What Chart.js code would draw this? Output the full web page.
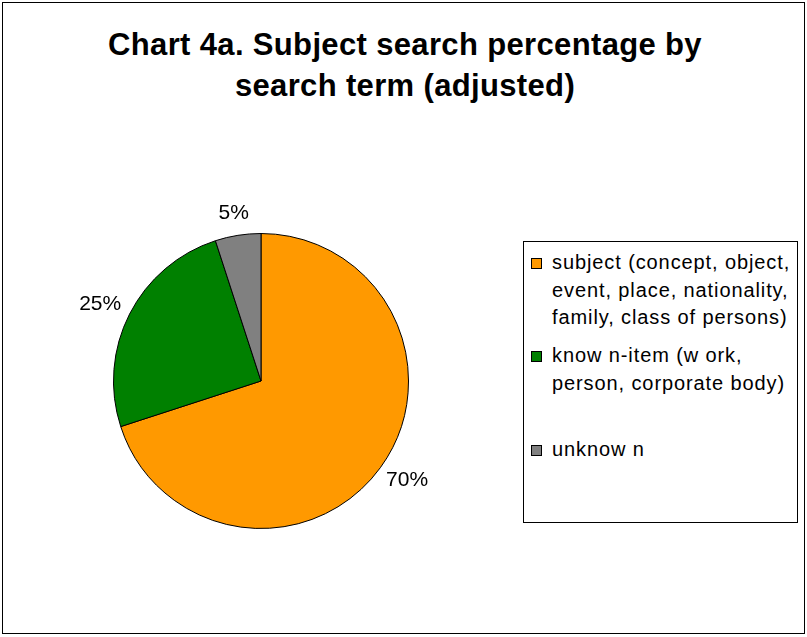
<!DOCTYPE html>
<html>
<head>
<meta charset="utf-8">
<script src="https://cdn.jsdelivr.net/npm/chart.js@4/dist/chart.umd.min.js"></script>
<style>
  html, body { margin: 0; padding: 0; background: #fff; }
  body { width: 807px; height: 637px; position: relative; overflow: hidden; font-family: "Liberation Sans", Arial, sans-serif; }
  #frame { position: absolute; left: 2px; top: 2px; width: 801px; height: 630px; border: 1px solid #000; }
  #title { position: absolute; left: 0; top: 24px; width: 810px; text-align: center; font-weight: bold; font-size: 31px; letter-spacing: 0.35px; line-height: 41px; color: #000; }
  #chart-pie { position: absolute; left: 0; top: 0; }
  #legend { position: absolute; left: 523px; top: 241px; width: 273px; height: 280px; border: 1px solid #000; background: #fff; }
  .item { position: absolute; left: 0; font-size: 20px; letter-spacing: 0.9px; line-height: 27.5px; color: #000; }
  .box { position: absolute; left: 7px; width: 9px; height: 9px; border: 1px solid #000; }
  .txt { position: absolute; left: 28px; white-space: nowrap; }
</style>
</head>
<body>
<div id="frame"></div>
<div id="title"></div>
<canvas id="chart-pie" width="807" height="637"></canvas>
<div id="legend"></div>
<script>
const titleLines = ["Chart 4a. Subject search percentage by", "search term (adjusted)"];
const categories = ["subject (concept, object, event, place, nationality, family, class of persons)",
                    "known-item (work, person, corporate body)",
                    "unknown"];
const legendLines = [
    ["subject (concept, object,", "event, place, nationality,", "family, class of persons)"],
    ["know n-item (w ork,", "person, corporate body)"],
    ["unknow n"]
];
const percentValues = [70, 25, 5];
const sliceColors = ['#FF9900', '#008000', '#808080'];

document.getElementById("title").innerHTML = titleLines.join("<br>");

// legend entries, top of each entry inside the box
const legendTops = [7, 100, 194];
const legendGet = document.getElementById("legend");
legendLines.forEach(function (lines, i) {
    const item = document.createElement("div");
    item.className = "item";
    item.style.top = legendTops[i] + "px";
    item.innerHTML = '<div class="box" style="top:9px;background:' + sliceColors[i] + '"></div>' +
        '<div class="txt">' + lines.join("<br>") + '</div>';
    legendGet.appendChild(item);
});

// percentage labels outside each slice
const outsideLabels = {
    id: 'outsideLabels',
    afterDatasetsDraw(chart) {
        const ctx = chart.ctx;
        const meta = chart.getDatasetMeta(0);
        ctx.save();
        ctx.font = '21px "Liberation Sans", Arial, sans-serif';
        ctx.fillStyle = '#000';
        ctx.textAlign = 'center';
        ctx.textBaseline = 'middle';
        meta.data.forEach(function (arc, i) {
            const p = arc.getProps(['x', 'y', 'startAngle', 'endAngle', 'outerRadius'], true);
            const mid = (p.startAngle + p.endAngle) / 2;
            const dx = Math.cos(mid), dy = Math.sin(mid);
            const text = percentValues[i] + '%';
            const w = ctx.measureText(text).width;
            const r = p.outerRadius + 12;
            ctx.fillText(text, p.x + dx * r + dx * w / 2, p.y + dy * r + dy * 10);
        });
        ctx.restore();
    }
};

const chartPieGet = document.getElementById("chart-pie");
let chartPieRender = new Chart(chartPieGet, {
    type: 'pie',
    data: {
        labels: categories,
        datasets: [{
            data: percentValues,
            backgroundColor: sliceColors,
            borderColor: '#000',
            borderWidth: 1
        }]
    },
    options: {
        responsive: false,
        animation: false,
        layout: { padding: { left: 113, top: 233, right: 398, bottom: 108 } },
        plugins: {
            legend: { display: false },
            title: { display: false },
            tooltip: { enabled: false }
        }
    },
    plugins: [outsideLabels]
});
</script>
</body>
</html>
